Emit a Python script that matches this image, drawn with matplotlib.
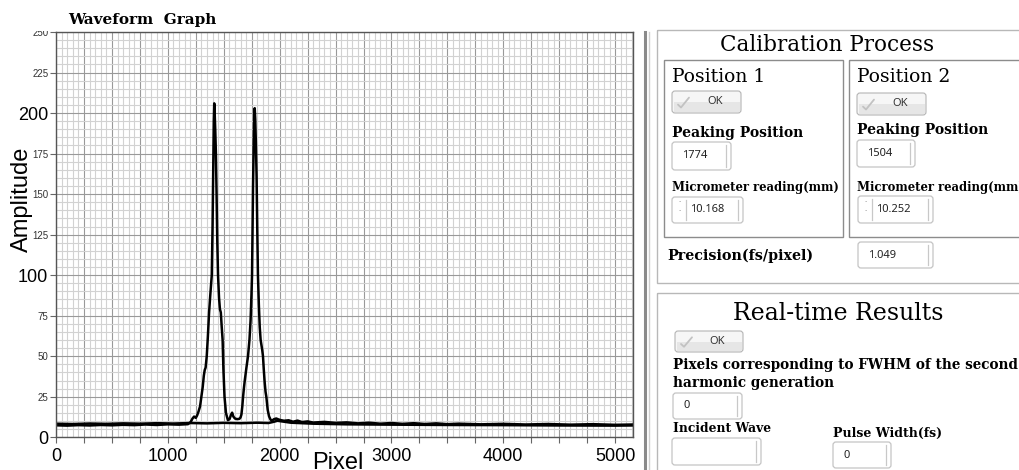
import numpy as np
import matplotlib
matplotlib.use("Agg")
import matplotlib.pyplot as plt
from matplotlib.patches import Rectangle, FancyBboxPatch
from matplotlib.transforms import Bbox, TransformedBbox

# two-peak autocorrelation trace (pixel index, amplitude)
wave_px = [0, 100, 200, 300, 400, 500, 600, 700, 800, 900, 1000, 1100, 1180,
           1205, 1220, 1235, 1250, 1262, 1275, 1288, 1300, 1312, 1322, 1330, 1338,
           1348, 1358, 1369, 1380, 1393, 1400, 1406, 1411, 1415, 1419, 1424, 1430,
           1436, 1442, 1449, 1458, 1466, 1474, 1482, 1490, 1497, 1507, 1520, 1537,
           1552, 1566, 1575, 1586, 1600, 1620, 1640, 1650, 1658, 1666, 1673, 1680,
           1688, 1703, 1717, 1730, 1740, 1748, 1753, 1758, 1762, 1768, 1773, 1777,
           1782, 1788, 1794, 1800, 1806, 1814, 1822, 1830, 1837, 1844, 1851, 1858,
           1866, 1874, 1881, 1893, 1905, 1918, 1930, 1950, 1970, 1990, 2010, 2040,
           2080, 2120, 2160, 2200, 2250, 2300, 2400, 2500, 2600, 2700, 2800, 2900,
           3000, 3100, 3200, 3300, 3400, 3500, 3600, 3800, 4000, 4200, 4400, 4600,
           4800, 5000, 5160]
wave_amp = [7.4, 7.2, 7.5, 7.3, 7.6, 7.4, 7.7, 7.5, 7.9, 7.6, 8.0, 7.8, 8.1,
            9.5, 11.5, 12.8, 12.0, 13.5, 16, 19, 25, 31, 38, 41.5, 43,
            50, 62, 77, 88, 100, 130, 165, 195, 206, 200, 190, 175,
            150, 122, 100, 86, 79, 77, 68, 60, 42, 25, 15, 10.6,
            11.2, 14.0, 15.2, 12.8, 11.6, 11.2, 11.4, 12.2, 14, 19, 25, 30,
            35, 43, 50, 60, 72, 88, 100, 130, 155, 180, 198, 203,
            196, 180, 160, 128, 100, 82, 68, 60, 57, 54, 50, 42,
            34, 28, 25, 17, 13, 11, 10.2, 11.2, 11.6, 11.0, 10.6, 10.2,
            10.5, 9.6, 10.3, 9.4, 9.8, 9.1, 9.5, 8.9, 9.2, 8.6, 9.0, 8.4,
            8.8, 8.3, 8.7, 8.2, 8.6, 8.1, 8.4, 8.0, 8.3, 7.9, 8.2, 7.8,
            8.1, 7.7, 7.9]

# background trace
base_px = [0, 150, 300, 450, 600, 750, 900, 1050, 1200, 1350, 1500, 1650, 1800,
           1900, 1950, 1980, 2020, 2100, 2300, 2600, 3000, 3500, 4000, 4500,
           5000, 5160]
base_amp = [8.4, 8.2, 8.5, 8.3, 8.6, 8.4, 8.7, 8.5, 8.8, 8.6, 8.9, 8.7, 9.0,
            8.8, 9.6, 10.2, 9.8, 9.0, 8.4, 8.0, 7.8, 7.6, 7.5, 7.3,
            7.2, 7.3]

y_ticks = [0, 25, 50, 75, 100, 125, 150, 175, 200, 225, 250]
y_big = [0, 100, 200]
x_ticks = list(range(0, 5001, 250))
x_labelled = [0, 1000, 2000, 3000, 4000, 5000]

peak_positions = ['1774', '1504']
micrometer_mm = ['10.168', '10.252']
precision_fs = '1.049'
fwhm_pixels = '0'
pulse_width_fs = '0'

W, H = 1019, 470
fig = plt.figure(figsize=(W / 100, H / 100), dpi=100)


def px_rect(x0, y0, x1, y1):
    return [x0 / W, 1 - y1 / H, (x1 - x0) / W, (y1 - y0) / H]


sans = ['Liberation Sans', 'DejaVu Sans']
serif = ['DejaVu Serif']

# ---- waveform graph ----
ax = fig.add_axes(px_rect(56, 32, 633, 437.3))
ax.plot(base_px, base_amp, color='black', lw=1.8)
ax.plot(wave_px, wave_amp, color='black', lw=1.8)
ax.set_xlim(0, 5160)
ax.set_ylim(0, 250)

ax.set_xticks(x_ticks)
ax.set_xticklabels([str(v) if v in x_labelled else '' for v in x_ticks],
                   fontsize=13, family=sans)
ax.set_xticks(np.arange(0, 5160, 50), minor=True)
ax.set_yticks(y_ticks)
ax.set_yticklabels([str(v) for v in y_ticks], family=sans)
ax.set_yticks(np.arange(0, 251, 5), minor=True)

clip = TransformedBbox(Bbox([[0, 0], [1, 1 - 31 / H]]), fig.transFigure)
for v, lbl in zip(y_ticks, ax.get_yticklabels()):
    lbl.set_fontsize(13 if v in y_big else 7)
    lbl.set_color('black' if v in y_big else '#333333')
    lbl.set_clip_box(clip)
    lbl.set_clip_on(True)

ax.tick_params(which='major', length=4, width=0.8, color='#666666')
ax.tick_params(axis='x', pad=4)
ax.tick_params(axis='y', pad=1.5)
ax.tick_params(which='minor', length=0)
ax.grid(which='minor', color='#d2d2d2', lw=0.8)
ax.grid(which='major', color='#999999', lw=0.8)
ax.set_axisbelow(True)
for sp in ax.spines.values():
    sp.set_color('#555555')
    sp.set_linewidth(1)

ax.set_xlabel('Pixel', fontsize=17, family=sans)
ax.xaxis.set_label_coords(0.4876, -0.078)
ax.xaxis.label.set_va('baseline')
ax.set_ylabel('Amplitude', fontsize=17, family=sans)
ax.yaxis.set_label_coords(-0.059, 0.588)
ax.yaxis.label.set_va('center')

fig.text(68 / W, 1 - 20 / H, 'Waveform  Graph', fontsize=11, family=serif,
         weight='bold', va='center')

# ---- calibration / results panel ----
ui = fig.add_axes([640 / W, 0, (W - 640) / W, 1])
ui.set_xlim(640, W)
ui.set_ylim(H, 0)
ui.axis('off')

ui.plot([644.5, 644.5], [32, H], color='#8a8a8a', lw=2.2)
ui.plot([648.5, 648.5], [32, H], color='#cfcfcf', lw=1)


def box(x0, y0, x1, y1, ec):
    ui.add_patch(Rectangle((x0, y0), x1 - x0, y1 - y0, fc='none', ec=ec, lw=1))


def ok_button(x, y, w, h):
    ui.add_patch(FancyBboxPatch((x, y), w, h, boxstyle='round,pad=0,rounding_size=3',
                                fc='#f6f6f6', ec='#b4b4b4', lw=0.8))
    ui.add_patch(Rectangle((x + 1.5, y + h / 2), w - 3, h / 2 - 1.5, fc='#e6e6e6', ec='none'))
    ui.plot([x + 6, x + 9, x + 17], [y + h * 0.62, y + h * 0.75, y + h * 0.3],
            color='#c2c2c2', lw=1.3, solid_capstyle='round')
    ui.text(x + w * 0.62, y + h / 2, 'OK', fontsize=8, family=['Noto Sans'],
            color='#333333', ha='center', va='center')


def num_box(x, y, w, h, text, spin=False):
    ui.add_patch(FancyBboxPatch((x, y), w, h, boxstyle='round,pad=0,rounding_size=3',
                                fc='white', ec='#c4c4c4', lw=0.9))
    ui.plot([x + w - 5, x + w - 5], [y + 3, y + h - 3], color='#c8c8c8', lw=0.9)
    tx = x + 10
    if spin:
        ui.plot([x + 14, x + 14], [y + 3, y + h - 3], color='#c8c8c8', lw=0.9)
        ui.text(x + 7, y + h * 0.35, '\u02d9', fontsize=6, color='#666666',
                ha='center', va='center')
        ui.text(x + 7, y + h * 0.68, '\u02d9', fontsize=6, color='#666666',
                ha='center', va='center')
        tx = x + 18
    ui.text(tx, y + h / 2, text, fontsize=8, family=['Noto Sans'],
            color='#222222', va='center')


box(657, 30, W + 5, 283, '#b8b8b8')
box(664, 60, 843, 237, '#8c8c8c')
box(849, 60, W + 5, 237, '#8c8c8c')
box(657, 293, W + 5, H + 5, '#b8b8b8')

ui.text(827, 45, 'Calibration Process', fontsize=15.5, family=serif,
        ha='center', va='center')

ui.text(672, 77, 'Position 1', fontsize=13.5, family=serif, va='center')
ok_button(672, 91, 69, 22)
ui.text(672, 133, 'Peaking Position', fontsize=10, family=serif, weight='bold', va='center')
num_box(672, 142, 59, 28, peak_positions[0])
ui.text(672, 188, 'Micrometer reading(mm)', fontsize=8.4, family=serif, weight='bold',
        va='center')
num_box(672, 197, 71, 26, micrometer_mm[0], spin=True)

ui.text(857, 77, 'Position 2', fontsize=13.5, family=serif, va='center')
ok_button(857, 93, 69, 22)
ui.text(857, 130, 'Peaking Position', fontsize=10, family=serif, weight='bold', va='center')
num_box(857, 140, 58, 27, peak_positions[1])
ui.text(857, 187, 'Micrometer reading(mm)', fontsize=8.4, family=serif, weight='bold',
        va='center')
num_box(858, 196, 75, 27, micrometer_mm[1], spin=True)

ui.text(667, 256, 'Precision(fs/pixel)', fontsize=10.3, family=serif, weight='bold',
        va='center')
num_box(858, 242, 75, 26, precision_fs)

ui.text(838, 313, 'Real-time Results', fontsize=17, family=serif,
        ha='center', va='center')
ok_button(675, 331, 68, 21)
ui.text(673, 365, 'Pixels corresponding to FWHM of the second', fontsize=9.8,
        family=serif, weight='bold', va='center')
ui.text(673, 383, 'harmonic generation', fontsize=9.8, family=serif, weight='bold',
        va='center')
num_box(673, 393, 69, 26, fwhm_pixels)
ui.text(673, 428, 'Incident Wave', fontsize=8.8, family=serif, weight='bold', va='center')
num_box(672, 438, 89, 27, '')
ui.text(833, 433, 'Pulse Width(fs)', fontsize=9, family=serif, weight='bold',
        va='center')
num_box(833, 442, 58, 26, pulse_width_fs)

fig.savefig('out.png', dpi=100)
